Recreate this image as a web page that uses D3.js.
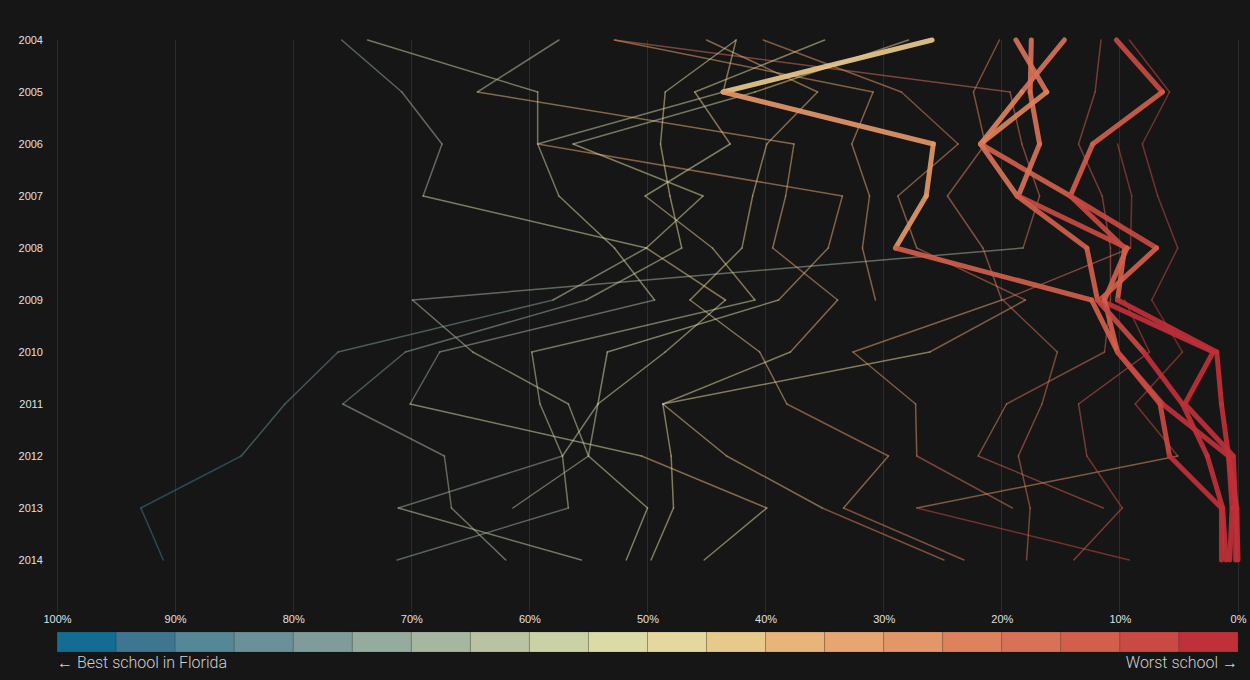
<!DOCTYPE html>
<html><head><meta charset="utf-8">
<script src="https://cdn.jsdelivr.net/npm/d3@7"></script>
<style>
html,body{margin:0;padding:0;background:#161616;}
svg{display:block;}
text{font-family:"Liberation Sans",Arial,"Helvetica Neue",sans-serif;}
.lbl{font-family:"Helvetica Neue",Roboto,"Liberation Sans",sans-serif;}
</style></head><body>
<svg id="c" width="1250" height="680"></svg>
<script>
// ---- data ----
const years = [2004,2005,2006,2007,2008,2009,2010,2011,2012,2013,2014];
const xTicks = [100,90,80,70,60,50,40,30,20,10,0];
const legendColors = ["#136c91","#3e7692","#558897","#6a9199","#7f9c9a","#95ab9d","#a6b7a0","#b9c3a2","#cad1a5","#dbdba6","#e5d89e","#e7c98c","#e8b47a","#e7a571","#e29768","#dd825c","#d77259","#d15f4c","#c84a43","#c03038"];

// percentile rank per year (100% = best school, 0% = worst); null = no rank that year
const schoolA = [75.9,70.8,67.4,69.0,50.1,58.0,76.2,80.7,84.4,92.9,91.0];
const schoolB = [73.7,59.3,59.3,57.5,52.8,49.4,67.6,70.1,50.5,39.9,45.2];
const schoolC = [57.5,64.4,37.6,38.3,39.4,33.9,37.9,48.7,43.3,35.2,24.9];
const schoolD = [52.8,30.9,32.7,31.2,31.8,30.7,null,null,null,null,null];
const schoolE = [52.8,19.3,18.3,16.8,18.2,69.9,64.8,56.7,55.0,50.0,51.8];
const schoolF = [45.0,35.6,39.9,41.1,42.0,46.4,40.5,38.2,29.6,33.4,23.2];
const schoolG = [42.5,48.5,48.9,48.1,47.1,55.2,70.5,75.8,67.2,66.6,62.0];
const schoolH = [42.5,43.6,59.3,33.5,34.7,38.9,53.4,54.2,57.2,71.1,55.6];
const schoolI = [40.2,28.5,23.7,28.8,27.2,18.0,26.1,48.7,48.0,47.8,49.7];
const schoolJ = [35.0,46.0,43.0,50.2,44.5,40.9,59.8,59.1,57.2,56.7,71.2];
const schoolK = [27.9,40.9,56.3,45.3,50.1,43.4,48.5,54.2,55.0,61.4,null];
const schoolL = [20.2,22.4,21.4,24.6,21.6,20.0,32.6,27.3,27.2,19.1,null];
const schoolM = [11.6,12.1,13.5,11.5,10.8,10.8,11.3,19.6,22.0,11.4,null];
const schoolN = [9.2,5.8,8.1,6.8,5.1,7.3,4.7,8.7,5.1,27.2,9.2];
const schoolO = [null,null,10.2,9.0,9.1,19.9,15.3,16.6,18.6,17.6,17.9];
const schoolP = [null,null,null,null,null,9.6,7.5,13.5,12.8,9.8,13.9];

const highlight1 = [25.9,43.6,25.8,26.4,29.0,12.4,10.2,6.6,5.8,1.4,1.4];
const highlight2 = [18.8,16.2,21.8,18.7,12.8,11.9,8.0,4.7,2.6,1.3,1.0];
const highlight3 = [17.5,17.6,16.8,18.6,9.4,11.3,10.2,6.4,0.8,0.5,0.7];
const highlight4 = [14.7,18.3,21.8,14.2,6.9,11.7,2.1,4.5,0.4,0.2,0.2];
const highlight5 = [10.3,6.4,12.3,14.2,9.6,10.2,1.8,1.4,0.8,0.1,0.0];

const thinSchools = [schoolA,schoolB,schoolC,schoolD,schoolE,schoolF,schoolG,schoolH,schoolI,schoolJ,schoolK,schoolL,schoolM,schoolN,schoolO,schoolP];
const highlightSchools = [highlight5,highlight4,highlight3,highlight2,highlight1];

const leftLabel = "\u2190 Best school in Florida";
const rightLabel = "Worst school \u2192";

// ---- chart ----
const W = 1250, H = 680;
const svg = d3.select("#c");
svg.append("rect").attr("width",W).attr("height",H).attr("fill","#161616");

const x = d3.scaleLinear().domain([100,0]).range([57,1238]);
const y = d3.scaleLinear().domain([2004,2014]).range([40,560]);
const color = d3.scaleQuantize().domain([0,100]).range(legendColors.slice().reverse());

// grid
svg.append("g").selectAll("line").data(xTicks).join("line")
  .attr("x1",d=>x(d)).attr("x2",d=>x(d)).attr("y1",40).attr("y2",612)
  .attr("stroke","#2c2c2c").attr("stroke-width",1).attr("shape-rendering","crispEdges");

// y axis
const yAxis = svg.append("g").attr("transform","translate(43,0)")
  .call(d3.axisLeft(y).tickValues(years).tickFormat(d3.format("d")).tickSize(0).tickPadding(0));
yAxis.select(".domain").remove();
yAxis.selectAll("text").attr("fill","#e0e0e0").attr("font-size","11px")
  .attr("font-family","'Liberation Sans',Arial,sans-serif");

// x axis
const xAxis = svg.append("g").attr("transform","translate(0,607)")
  .call(d3.axisBottom(x).tickValues(xTicks).tickFormat(d=>d+"%").tickSize(0).tickPadding(8));
xAxis.select(".domain").remove();
xAxis.selectAll("text").attr("fill","#e0e0e0").attr("font-size","11px")
  .attr("font-family","'Liberation Sans',Arial,sans-serif");

function segments(series){
  const segs = [];
  series.forEach((s,si)=>{
    for(let i=1;i<years.length;i++){
      if(s[i-1]!=null && s[i]!=null){
        segs.push({x1:x(s[i-1]),y1:y(years[i-1]),x2:x(s[i]),y2:y(years[i]),c:color(Math.min(99.99,s[i])),k:si});
      }
    }
  });
  return segs;
}

svg.append("g").selectAll("line").data(segments(thinSchools)).join("line")
  .attr("x1",d=>d.x1).attr("y1",d=>d.y1).attr("x2",d=>d.x2).attr("y2",d=>d.y2)
  .attr("stroke",d=>d.c).attr("stroke-width",1.5).attr("stroke-opacity",0.52)
  .attr("stroke-linecap","round");

svg.append("g").selectAll("line").data(segments(highlightSchools)).join("line")
  .attr("x1",d=>d.x1).attr("y1",d=>d.y1).attr("x2",d=>d.x2).attr("y2",d=>d.y2)
  .attr("stroke",d=>d.c).attr("stroke-width",5).attr("stroke-opacity",0.92)
  .attr("stroke-linecap","round");

// legend
const bins = d3.range(legendColors.length);
svg.append("g").selectAll("rect").data(bins).join("rect")
  .attr("x",i=>x(100-i*5)).attr("width",i=>x(100-(i+1)*5)-x(100-i*5))
  .attr("y",632).attr("height",20)
  .attr("fill",i=>legendColors[i])
  .attr("stroke","#000").attr("stroke-opacity",0.12).attr("stroke-width",1);

svg.append("text").attr("class","lbl").attr("x",x(100)).attr("y",668).attr("fill","#d0d0d0")
  .attr("font-size","16px").attr("font-weight",300).text(leftLabel);
svg.append("text").attr("class","lbl").attr("x",x(0)).attr("y",668).attr("text-anchor","end").attr("fill","#d0d0d0")
  .attr("font-size","16px").attr("font-weight",300).text(rightLabel);
</script>
</body></html>
